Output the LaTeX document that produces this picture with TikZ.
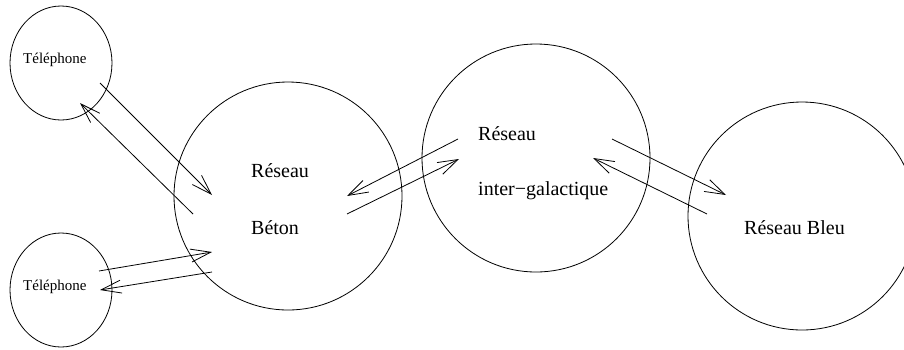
\documentclass[tikz,border=0pt]{standalone}
\usepackage{fontspec}
\setmainfont{Liberation Serif}
\usetikzlibrary{shapes.geometric,arrows.meta}
\tikzset{
  net/.style={draw, circle, minimum size=228pt, inner sep=0pt, line width=0.8pt},
  tel/.style={draw, ellipse, minimum width=102pt, minimum height=114pt, inner sep=0pt, line width=0.8pt},
  lbl/.style={anchor=base west, inner sep=0pt, font=\fontsize{20}{24}\selectfont},
  tlbl/.style={anchor=base west, inner sep=0pt, font=\fontsize{15}{18}\selectfont},
  link/.style={line width=0.8pt, -{Straight Barb[length=20pt,width=13pt,line width=0.8pt]}}
}
\begin{document}
\begin{tikzpicture}[x=1pt,y=-1pt]
\useasboundingbox (0,0) rectangle (904,349);
\clip (0,0) rectangle (904,349);
% circles
\node[tel] (tel1) at (61,63) {};
\node[tel] (tel2) at (61,290) {};
\node[net] (beton) at (288,196) {};
\node[net] (inter) at (536,158) {};
\node[net] (bleu) at (802,216) {};
% labels
\node[tlbl] (t1) at (23,63) {Téléphone};
\node[tlbl] (t2) at (23,290) {Téléphone};
\node[lbl] (b1) at (251,177) {Réseau};
\node[lbl] (b2) at (251,234) {Béton};
\node[lbl] (i1) at (478,140) {Réseau};
\node[lbl] (i2) at (478,195) {inter−galactique};
\node[lbl] (bl) at (744,234) {Réseau Bleu};
% arrow end points
\coordinate (a1) at (100,83);  \coordinate (a2) at (212,195);
\coordinate (b1s) at (193,214); \coordinate (b2e) at (80,103);
\coordinate (c1) at (99,271);  \coordinate (c2) at (212,252);
\coordinate (d1) at (212,272); \coordinate (d2) at (100,290);
\coordinate (e1) at (458,139); \coordinate (e2) at (347,196);
\coordinate (f1) at (347,214); \coordinate (f2) at (459,159);
\coordinate (g1) at (612,139); \coordinate (g2) at (726,195);
\coordinate (h1) at (707,214); \coordinate (h2) at (593,158);
% arrows
\draw[link] (a1) -- (a2);
\draw[link] (b1s) -- (b2e);
\draw[link] (c1) -- (c2);
\draw[link] (d1) -- (d2);
\draw[link] (e1) -- (e2);
\draw[link] (f1) -- (f2);
\draw[link] (g1) -- (g2);
\draw[link] (h1) -- (h2);
\end{tikzpicture}
\end{document}
